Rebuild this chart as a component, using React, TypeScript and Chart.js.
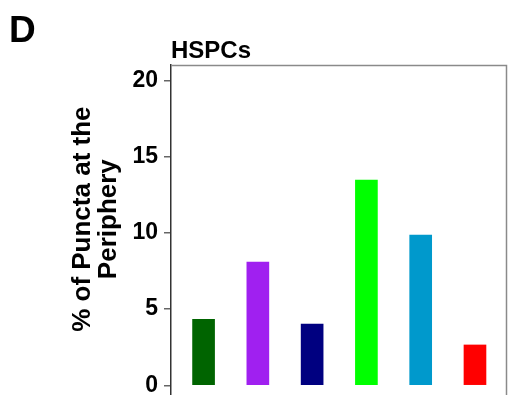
import React, { useEffect, useRef } from "react";
import { Chart, registerables } from "chart.js";

Chart.register(...registerables);

const categories = ["Group 1", "Group 2", "Group 3", "Group 4", "Group 5", "Group 6"];
const values = [4.33, 8.09, 4.02, 13.46, 9.86, 2.65];
const barColors = ["#006400", "#A020F0", "#000080", "#00FF00", "#0099CC", "#FF0000"];
const yTicks = [0, 5, 10, 15, 20];
const panelLabel = "D";
const chartTitle = "HSPCs";
const yTitleLines = ["   % of Puncta at the", "   Periphery"];

const FONT = "'Liberation Sans', Arial, Helvetica, sans-serif";

const boxBorder = {
  id: "boxBorder",
  afterDatasetsDraw(chart: any) {
    const { ctx, chartArea } = chart;
    ctx.save();
    ctx.strokeStyle = "#8a8a8a";
    ctx.lineWidth = 1.5;
    ctx.beginPath();
    ctx.moveTo(chartArea.left, chartArea.top + 0.5);
    ctx.lineTo(chartArea.right - 0.5, chartArea.top + 0.5);
    ctx.lineTo(chartArea.right - 0.5, chartArea.bottom);
    ctx.stroke();
    ctx.restore();
  },
};

export default function App() {
  const ref = useRef<HTMLCanvasElement | null>(null);

  useEffect(() => {
    if (!ref.current) return;
    const chart = new Chart(ref.current, {
      type: "bar",
      data: {
        labels: categories,
        datasets: [
          {
            label: chartTitle,
            data: values.map((v, i) => ({ x: i + 1, y: v })),
            backgroundColor: barColors,
            borderWidth: 0,
            barThickness: 22,
          },
        ],
      },
      options: {
        responsive: false,
        animation: false,
        layout: { padding: { left: 9, right: 2, top: 0, bottom: 0 } },
        plugins: {
          legend: { display: false },
          tooltip: { enabled: false },
          title: {
            display: true,
            text: panelLabel,
            align: "start",
            color: "#000",
            font: { family: FONT, size: 37, weight: "bold", lineHeight: 0.4 },
            padding: { top: 23.9, bottom: 0.3 },
          },
          subtitle: {
            display: true,
            text: chartTitle,
            align: "start",
            fullSize: false,
            color: "#000",
            font: { family: FONT, size: 24, weight: "bold", lineHeight: 1 },
            padding: { top: 0, bottom: 2 },
          },
        },
        scales: {
          x: {
            type: "linear",
            display: false,
            min: 0.4,
            max: 6.59,
            offset: false,
          },
          y: {
            type: "linear",
            min: -0.63,
            max: 21.0,
            afterBuildTicks: (scale: any) => {
              scale.ticks = yTicks.map((v) => ({ value: v }));
            },
            afterFit: (scale: any) => {
              scale.width = 162;
              scale.paddingTop = 0;
              scale.paddingBottom = 0;
            },
            ticks: {
              autoSkip: false,
              color: "#000",
              padding: 6,
              font: { family: FONT, size: 23, weight: "bold" },
            },
            grid: {
              drawOnChartArea: false,
              drawTicks: true,
              tickLength: 7,
              color: "#666",
              lineWidth: 1.5,
            },
            border: { display: true, color: "#333", width: 1.5 },
            title: {
              display: true,
              text: yTitleLines,
              color: "#000",
              font: { family: FONT, size: 26, weight: "bold", lineHeight: 1 },
              padding: { top: 60.7, bottom: 0 },
            },
          },
        },
      },
      plugins: [boxBorder],
    });
    return () => chart.destroy();
  }, []);

  return (
    <div style={{ position: "absolute", left: 0, top: 0, width: 509, height: 395, background: "#fff" }}>
      <canvas ref={ref} width={509} height={395} style={{ display: "block" }} />
    </div>
  );
}
